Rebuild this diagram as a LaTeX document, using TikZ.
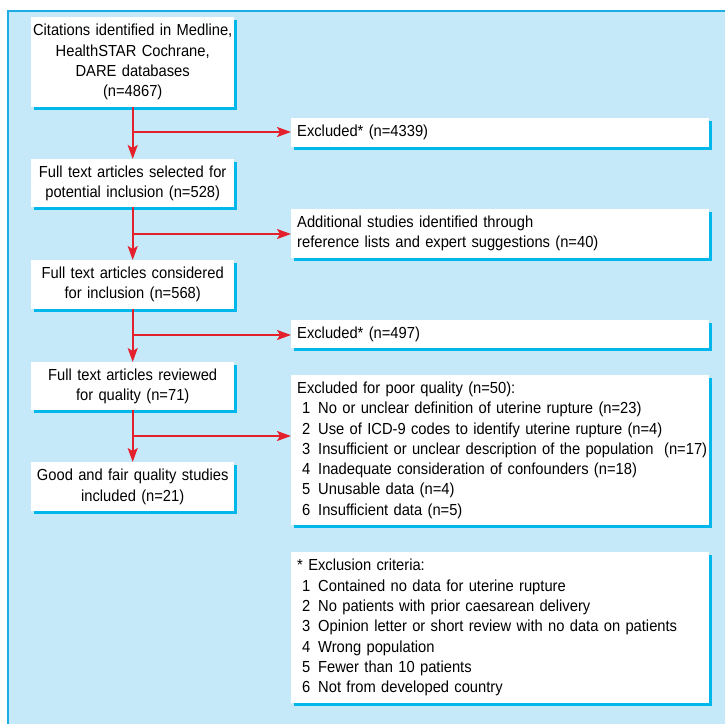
\documentclass[tikz,border=0pt]{standalone}
\usepackage{fontspec}
\setmainfont{Liberation Sans}[FakeStretch=0.92]
\usetikzlibrary{arrows.meta,shadows}
\definecolor{bgblue}{HTML}{C6E9F9}
\definecolor{edgeblue}{HTML}{1BAEE5}
\definecolor{shadowblue}{HTML}{00B7EB}
\definecolor{arrred}{HTML}{E3202C}
\newcommand{\itm}[2]{\mbox{\hspace*{5pt}\makebox[16pt][l]{#1}#2}}
\newcommand{\boxfont}{\fontsize{16}{20.3}\selectfont}
\begin{document}
\begin{tikzpicture}[x=1pt,y=-1pt,
  boxbase/.style={fill=white, draw=none, anchor=north west, inner ysep=0pt,
    font=\boxfont,
    drop shadow={shadow xshift=3pt, shadow yshift=-3pt, fill=shadowblue, opacity=1}},
  leftbox/.style={boxbase, inner xsep=1pt, minimum width=203pt, text width=201pt, align=center},
  rightbox/.style={boxbase, inner xsep=6pt, minimum width=418pt, text width=406pt, align=left},
  arr/.style={draw=arrred, line width=1.8pt, -{Stealth[length=14pt,width=10pt,inset=3pt]}},
  ]
\useasboundingbox (0,0) rectangle (725,724);
\fill[bgblue] (8,11) rectangle (725,724);
\draw[edgeblue, line width=1.6pt] (8,724) -- (8,11) -- (725,11);

% left column
\node[leftbox, minimum height=90pt] (b1) at (31,17)
  {Citations identified in Medline,\\HealthSTAR Cochrane,\\DARE databases\\(n=4867)};
\node[leftbox, minimum height=48pt] (b2) at (31,159)
  {Full text articles selected for\\potential inclusion (n=528)};
\node[leftbox, minimum height=49pt] (b3) at (31,260)
  {Full text articles considered\\for inclusion (n=568)};
\node[leftbox, minimum height=48pt] (b4) at (31,362)
  {Full text articles reviewed\\for quality (n=71)};
\node[leftbox, minimum height=49pt] (b5) at (31,462)
  {Good and fair quality studies\\included (n=21)};

% right column
\node[rightbox, minimum height=29pt] (e1) at (291,118) {\mbox{Excluded* (n=4339)}};
\node[rightbox, minimum height=49pt] (e2) at (291,209)
  {\mbox{Additional studies identified through}\\\mbox{reference lists and expert suggestions (n=40)}};
\node[rightbox, minimum height=28pt] (e3) at (291,320) {\mbox{Excluded* (n=497)}};
\node[rightbox, minimum height=150pt] (e4) at (291,375)
  {\mbox{Excluded for poor quality (n=50):}\\
   \itm{1}{No or unclear definition of uterine rupture (n=23)}\\
   \itm{2}{Use of ICD-9 codes to identify uterine rupture (n=4)}\\
   \itm{3}{Insufficient or unclear description of the population\ \ (n=17)}\\
   \itm{4}{Inadequate consideration of confounders (n=18)}\\
   \itm{5}{Unusable data (n=4)}\\
   \itm{6}{Insufficient data (n=5)}};
\node[rightbox, minimum height=151pt] (e5) at (291,552)
  {\mbox{* Exclusion criteria:}\\
   \itm{1}{Contained no data for uterine rupture}\\
   \itm{2}{No patients with prior caesarean delivery}\\
   \itm{3}{Opinion letter or short review with no data on patients}\\
   \itm{4}{Wrong population}\\
   \itm{5}{Fewer than 10 patients}\\
   \itm{6}{Not from developed country}};

% connectors
\draw[arr] (b1.south) -- (b2.north);
\draw[arr] (b2.south) -- (b3.north);
\draw[arr] (b3.south) -- (b4.north);
\draw[arr] (b4.south) -- (b5.north);

\coordinate (j1) at (132.5,132);
\coordinate (j2) at (132.5,234);
\coordinate (j3) at (132.5,335);
\coordinate (j4) at (132.5,436);
\draw[arr] (j1) -- (j1 -| e1.west);
\draw[arr] (j2) -- (j2 -| e2.west);
\draw[arr] (j3) -- (j3 -| e3.west);
\draw[arr] (j4) -- (j4 -| e4.west);
\end{tikzpicture}
\end{document}
